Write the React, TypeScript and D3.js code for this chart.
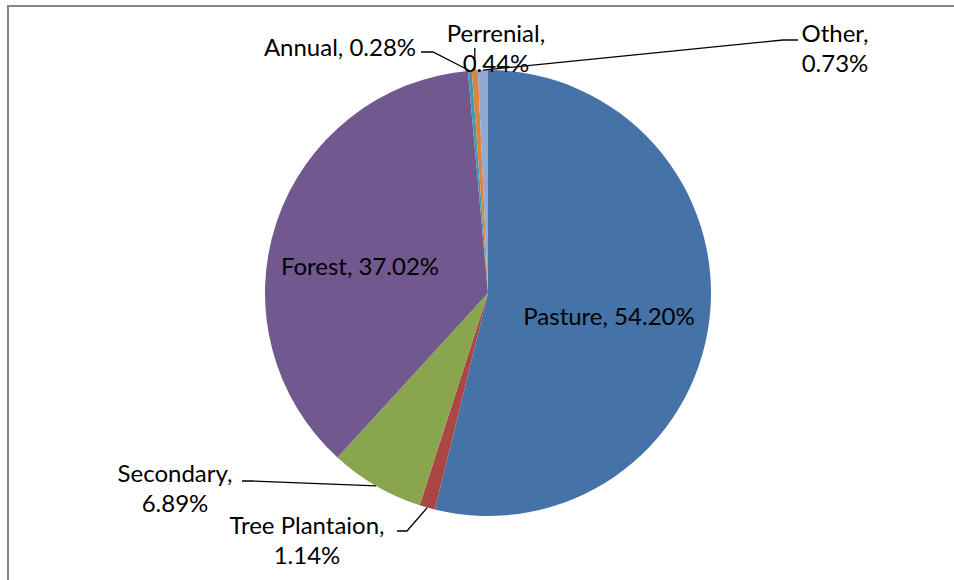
import React from 'react';
import * as d3 from 'd3';

const categories = ['Pasture', 'Tree Plantaion', 'Secondary', 'Forest', 'Annual', 'Perrenial', 'Other'];
const shares = [54.2, 1.14, 6.89, 37.02, 0.28, 0.44, 0.73];
const shareLabels = ['54.20%', '1.14%', '6.89%', '37.02%', '0.28%', '0.44%', '0.73%'];
const colors = ['#4572A7', '#AA4643', '#89A54E', '#71588F', '#4198AF', '#DB843D', '#93A9CF'];

const width = 954;
const height = 580;
const cx = 488;
const cy = 293;
const radius = 223;
const font = 'Lato, "Open Sans", sans-serif';
const fontSize = 24;
const lineGap = 30;

// where each label sits; outside labels get a leader line back to the slice rim
type LabelSpot = { x: number; y: number; lines: 1 | 2; elbow?: [number, number][] };
const labelSpots: Record<string, LabelSpot> = {
  Pasture: { x: 609, y: 325, lines: 1 },
  Forest: { x: 360, y: 275, lines: 1 },
  Secondary: { x: 175, y: 482, lines: 2, elbow: [[242, 481], [252, 481]] },
  'Tree Plantaion': { x: 307, y: 534, lines: 2, elbow: [[397, 531], [407, 531]] },
  Annual: { x: 340, y: 56, lines: 1, elbow: [[421, 52], [433, 52]] },
  Perrenial: { x: 496, y: 42, lines: 2, elbow: [] },
  Other: { x: 835, y: 42, lines: 2, elbow: [[798, 40], [783, 40]] },
};

const App = () => {
  const slices = d3.pie<number>().sort(null).value(d => d)(shares);
  const arc = d3.arc<d3.PieArcDatum<number>>().innerRadius(0).outerRadius(radius);

  return (
    <>
      <style>{'body{margin:0}'}</style>
      <svg width={width} height={height} style={{ display: 'block', fontFamily: font }}>
        <rect x={8} y={6} width={width + 20} height={height + 20} fill="white" stroke="#868686" strokeWidth={2} />
        <g transform={`translate(${cx},${cy})`}>
          {slices.map((s, i) => (
            <path key={categories[i]} d={arc(s) || ''} fill={colors[i]} />
          ))}
        </g>
        {slices.map((s, i) => {
          const name = categories[i];
          const spot = labelSpots[name];
          const mid = (s.startAngle + s.endAngle) / 2;
          const rim: [number, number] = [cx + radius * Math.sin(mid), cy - radius * Math.cos(mid)];
          let leader = null;
          if (spot.elbow) {
            const pts = spot.elbow.length ? [...spot.elbow, rim] : [[rim[0], 48] as [number, number], rim];
            leader = <path d={d3.line()(pts) || ''} fill="none" stroke="black" strokeWidth={1.3} />;
          }
          const texts = spot.lines === 1 ? [`${name}, ${shareLabels[i]}`] : [`${name},`, shareLabels[i]];
          return (
            <g key={name}>
              {leader}
              <text textAnchor="middle" fontSize={fontSize} fill="black">
                {texts.map((t, k) => (
                  <tspan key={k} x={spot.x} y={spot.y + k * lineGap}>{t}</tspan>
                ))}
              </text>
            </g>
          );
        })}
      </svg>
    </>
  );
};

export default App;
